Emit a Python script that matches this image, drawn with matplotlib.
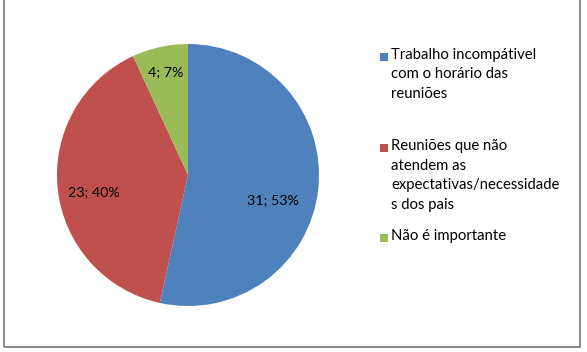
import numpy as np
import matplotlib.pyplot as plt
from matplotlib.patches import Rectangle

# Dados
categorias = ["Trabalho incompátivel\ncom o horário das\nreuniões",
              "Reuniões que não\natendem as\nexpectativas/necessidade\ns dos pais",
              "Não é importante"]
valores = [31, 23, 4]
percentuais = [53, 40, 7]
cores = ['#4F81BD', '#C0504D', '#9BBB59']

plt.rcParams['font.family'] = ['Lato', 'DejaVu Sans']

fig = plt.figure(figsize=(5.87, 3.52), dpi=100)

# moldura (topo cortado como no original)
fig.patches.append(Rectangle((4 / 587, 5 / 352), 576 / 587, 1.2, transform=fig.transFigure,
                             fill=False, edgecolor='#808080', linewidth=1.3))

ax = fig.add_axes([57 / 587, 46 / 352, 262 / 587, 262 / 352])
wedges, _ = ax.pie(valores, colors=cores, startangle=90, counterclock=False,
                   radius=1, wedgeprops=dict(linewidth=0))
ax.set_xlim(-1, 1)
ax.set_ylim(-1, 1)
ax.set_aspect('equal')
ax.axis('off')

# rótulos dentro das fatias
dist = [0.65, 0.72, 0.8]
desloc = [-0.12, -0.05, 0.0]
for w, v, p, d, dy in zip(wedges, valores, percentuais, dist, desloc):
    ang = np.deg2rad((w.theta1 + w.theta2) / 2)
    ax.text(d * np.cos(ang), d * np.sin(ang) + dy, f"{v}; {p}%", ha='center', va='center',
            fontsize=10.3, color='black')

# legenda manual
topos = [57, 148, 238]
for lab, cor, y in zip(categorias, cores, topos):
    fig.patches.append(Rectangle((380 / 587, 1 - (y + 4) / 352), 8 / 587, 8 / 352,
                                 transform=fig.transFigure, facecolor=cor, edgecolor='none'))
    fig.text(391 / 587, 1 - (y - 9) / 352, lab, ha='left', va='top', fontsize=10.7,
             linespacing=1.5)

plt.savefig("out.png", dpi=100)
